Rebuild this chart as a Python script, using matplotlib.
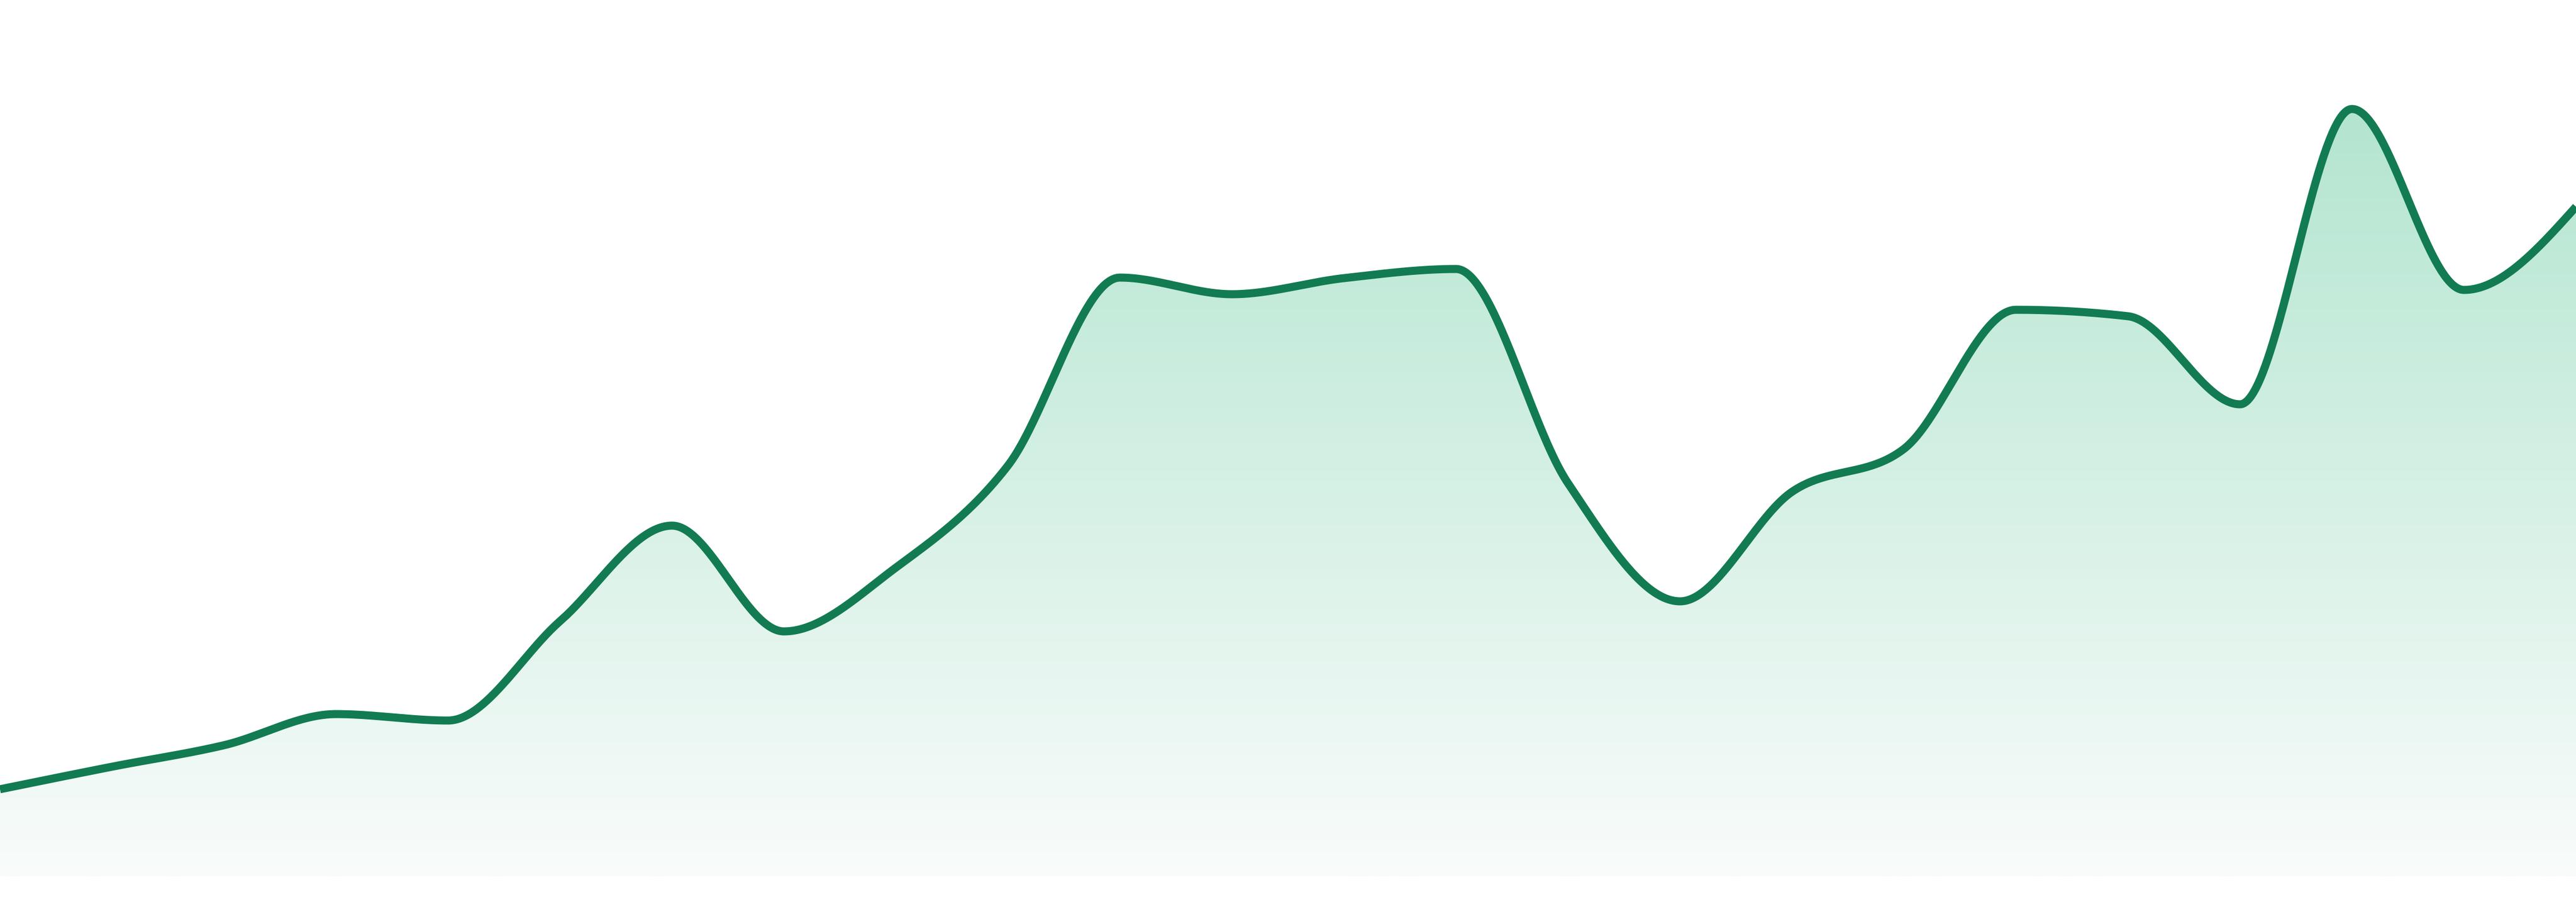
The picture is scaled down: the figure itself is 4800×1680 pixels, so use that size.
import numpy as np
import matplotlib
matplotlib.use("Agg")
import matplotlib.pyplot as plt
from matplotlib.patches import Polygon
from matplotlib.colors import LinearSegmentedColormap

# ---- data (24 evenly spaced points) ----
index = list(range(24))
values = [16.2, 20.4, 24.4, 30.2, 29.0, 47.5, 65.3, 45.6, 57.5, 76.5, 111.5, 108.4,
          111.4, 113.1, 73.2, 51.2, 71.6, 79.6, 105.5, 104.3, 87.9, 142.9, 109.2, 124.7]
y_max = 163.2

line_color = "#127b52"
fill_top = (179/255, 229/255, 208/255)
fill_bottom = (249/255, 252/255, 251/255)


def monotone_x(x, y, per_seg=80):
    """d3.curveMonotoneX equivalent (Steffen tangents, cubic Bezier)."""
    x = np.asarray(x, float)
    y = np.asarray(y, float)
    n = len(x)
    h = np.diff(x)
    s = np.diff(y) / h
    t = np.zeros(n)
    for i in range(1, n - 1):
        s0, s1 = s[i - 1], s[i]
        p = (s0 * h[i] + s1 * h[i - 1]) / (h[i - 1] + h[i])
        t[i] = (np.sign(s0) + np.sign(s1)) * min(abs(s0), abs(s1), 0.5 * abs(p))
    t[0] = (3 * s[0] - t[1]) / 2
    t[-1] = (3 * s[-1] - t[-2]) / 2
    xs, ys = [], []
    u = np.linspace(0, 1, per_seg, endpoint=False)
    for i in range(n - 1):
        dx = h[i] / 3
        p0 = np.array([x[i], y[i]])
        p1 = np.array([x[i] + dx, y[i] + dx * t[i]])
        p2 = np.array([x[i + 1] - dx, y[i + 1] - dx * t[i + 1]])
        p3 = np.array([x[i + 1], y[i + 1]])
        b = ((1 - u)[:, None] ** 3 * p0 + 3 * ((1 - u) ** 2 * u)[:, None] * p1
             + 3 * ((1 - u) * u ** 2)[:, None] * p2 + (u ** 3)[:, None] * p3)
        xs.append(b[:, 0]); ys.append(b[:, 1])
    xs.append([x[-1]]); ys.append([y[-1]])
    return np.concatenate(xs), np.concatenate(ys)


fig = plt.figure(figsize=(16, 5.6), dpi=300)
fig.patch.set_facecolor("white")
ax = fig.add_axes([0, 48 / 1680, 1, 1632 / 1680])
ax.set_xlim(index[0], index[-1])
ax.set_ylim(0, y_max)
ax.axis("off")

xs, ys = monotone_x(index, values)

# gradient fill under the curve
top = max(values)
cmap = LinearSegmentedColormap.from_list("g", [fill_bottom, fill_top])
grad = np.linspace(0, 1, 512).reshape(-1, 1)
img = ax.imshow(grad, cmap=cmap, origin="lower", aspect="auto",
                extent=[index[0], index[-1], 0, top], zorder=1, interpolation="bilinear")
poly_pts = np.column_stack([np.concatenate([xs, [index[-1], index[0]]]),
                            np.concatenate([ys, [0, 0]])])
clip = Polygon(poly_pts, closed=True, facecolor="none", edgecolor="none",
               transform=ax.transData)
ax.add_patch(clip)
img.set_clip_path(clip)

ax.plot(xs, ys, color=line_color, lw=3.6, solid_capstyle="butt",
        solid_joinstyle="round", zorder=3, clip_on=False)

fig.savefig("out.png", dpi=300, facecolor="white")
